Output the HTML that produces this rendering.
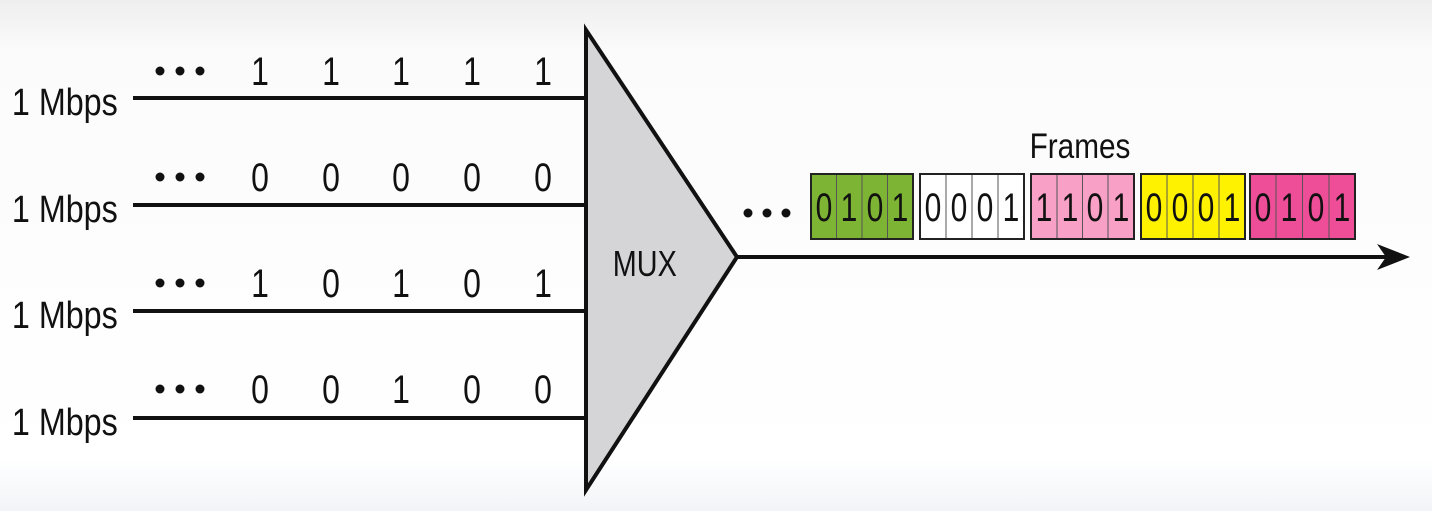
<!DOCTYPE html>
<html><head><meta charset="utf-8"><style>
html,body{margin:0;padding:0;background:#fff}
svg{display:block}
text{font-family:"Liberation Sans",sans-serif;fill:#111}
</style></head><body>
<svg width="1432" height="511" viewBox="0 0 1432 511" xmlns="http://www.w3.org/2000/svg">
<defs><linearGradient id="bg" x1="0" y1="0" x2="0" y2="1">
<stop offset="0" stop-color="#eeeeee"/><stop offset="0.1" stop-color="#fbfbfb"/><stop offset="0.9" stop-color="#ffffff"/><stop offset="1" stop-color="#f1f4f8"/></linearGradient></defs>
<rect width="1432" height="511" fill="url(#bg)"/>
<g stroke="#111" stroke-width="4">
<line x1="133" y1="98" x2="586" y2="98"/>
<line x1="133" y1="205" x2="586" y2="205"/>
<line x1="133" y1="311" x2="586" y2="311"/>
<line x1="133" y1="418" x2="586" y2="418"/>
<line x1="737" y1="257" x2="1390" y2="257"/>
</g>
<polygon points="1410,257 1377,244 1386,257 1377,270" fill="#111"/>
<polygon points="586,30 737,257 586,490" fill="#d5d5d7" stroke="#111" stroke-width="4" stroke-linejoin="miter"/>
<g transform="scale(0.8 1)"><text x="806" y="276" font-size="36" text-anchor="middle">MUX</text></g>
<g font-size="38" transform="scale(0.85 1)">
<text x="14" y="115">1 Mbps</text>
<text x="14" y="222">1 Mbps</text>
<text x="14" y="328">1 Mbps</text>
<text x="14" y="435">1 Mbps</text>
</g>
<g fill="#111">
<circle cx="160" cy="71" r="4.5"/><circle cx="180" cy="71" r="4.5"/><circle cx="200" cy="71" r="4.5"/>
<circle cx="160" cy="177" r="4.5"/><circle cx="180" cy="177" r="4.5"/><circle cx="200" cy="177" r="4.5"/>
<circle cx="160" cy="283" r="4.5"/><circle cx="180" cy="283" r="4.5"/><circle cx="200" cy="283" r="4.5"/>
<circle cx="160" cy="389" r="4.5"/><circle cx="180" cy="389" r="4.5"/><circle cx="200" cy="389" r="4.5"/>
<circle cx="748" cy="213" r="4.5"/><circle cx="767" cy="213" r="4.5"/><circle cx="786" cy="213" r="4.5"/>
</g>
<g font-size="40" text-anchor="middle" transform="scale(0.8 1)">
<text x="325" y="85">1</text><text x="413.75" y="85">1</text><text x="501.25" y="85">1</text><text x="590" y="85">1</text><text x="678.75" y="85">1</text>
<text x="325" y="191">0</text><text x="413.75" y="191">0</text><text x="501.25" y="191">0</text><text x="590" y="191">0</text><text x="678.75" y="191">0</text>
<text x="325" y="297">1</text><text x="413.75" y="297">0</text><text x="501.25" y="297">1</text><text x="590" y="297">0</text><text x="678.75" y="297">1</text>
<text x="325" y="403">0</text><text x="413.75" y="403">0</text><text x="501.25" y="403">1</text><text x="590" y="403">0</text><text x="678.75" y="403">0</text>
</g>
<g transform="scale(0.85 1)"><text x="1270.6" y="158" font-size="35" text-anchor="middle">Frames</text></g>
<g stroke="#222" stroke-width="2">
<rect x="811" y="174" width="102" height="65" fill="#7db434"/>
<rect x="920" y="174" width="104" height="65" fill="#ffffff"/>
<rect x="1031" y="174" width="103" height="65" fill="#f8a0c6"/>
<rect x="1141" y="174" width="104" height="65" fill="#fff200"/>
<rect x="1250" y="174" width="105" height="65" fill="#ee4d98"/>
</g>
<g stroke="#555" stroke-width="1">
<line x1="836.5" y1="175" x2="836.5" y2="238"/><line x1="862" y1="175" x2="862" y2="238"/><line x1="887.5" y1="175" x2="887.5" y2="238"/>
<line x1="946" y1="175" x2="946" y2="238"/><line x1="972" y1="175" x2="972" y2="238"/><line x1="998" y1="175" x2="998" y2="238"/>
<line x1="1057" y1="175" x2="1057" y2="238"/><line x1="1082.5" y1="175" x2="1082.5" y2="238"/><line x1="1108" y1="175" x2="1108" y2="238"/>
<line x1="1167" y1="175" x2="1167" y2="238"/><line x1="1193" y1="175" x2="1193" y2="238"/><line x1="1219" y1="175" x2="1219" y2="238"/>
<line x1="1276" y1="175" x2="1276" y2="238"/><line x1="1302.5" y1="175" x2="1302.5" y2="238"/><line x1="1329" y1="175" x2="1329" y2="238"/>
</g>
<g font-size="40" text-anchor="middle" transform="scale(0.75 1)">
<text x="1098.7" y="221">0</text><text x="1132" y="221">1</text><text x="1166.7" y="221">0</text><text x="1200" y="221">1</text>
<text x="1244" y="221">0</text><text x="1278.7" y="221">0</text><text x="1313.3" y="221">0</text><text x="1348" y="221">1</text>
<text x="1392" y="221">1</text><text x="1426.7" y="221">1</text><text x="1460" y="221">0</text><text x="1494.7" y="221">1</text>
<text x="1538.7" y="221">0</text><text x="1573.3" y="221">0</text><text x="1608" y="221">0</text><text x="1642.7" y="221">1</text>
<text x="1684" y="221">0</text><text x="1718.7" y="221">1</text><text x="1754.7" y="221">0</text><text x="1789.3" y="221">1</text>
</g>
</svg>
</body></html>
